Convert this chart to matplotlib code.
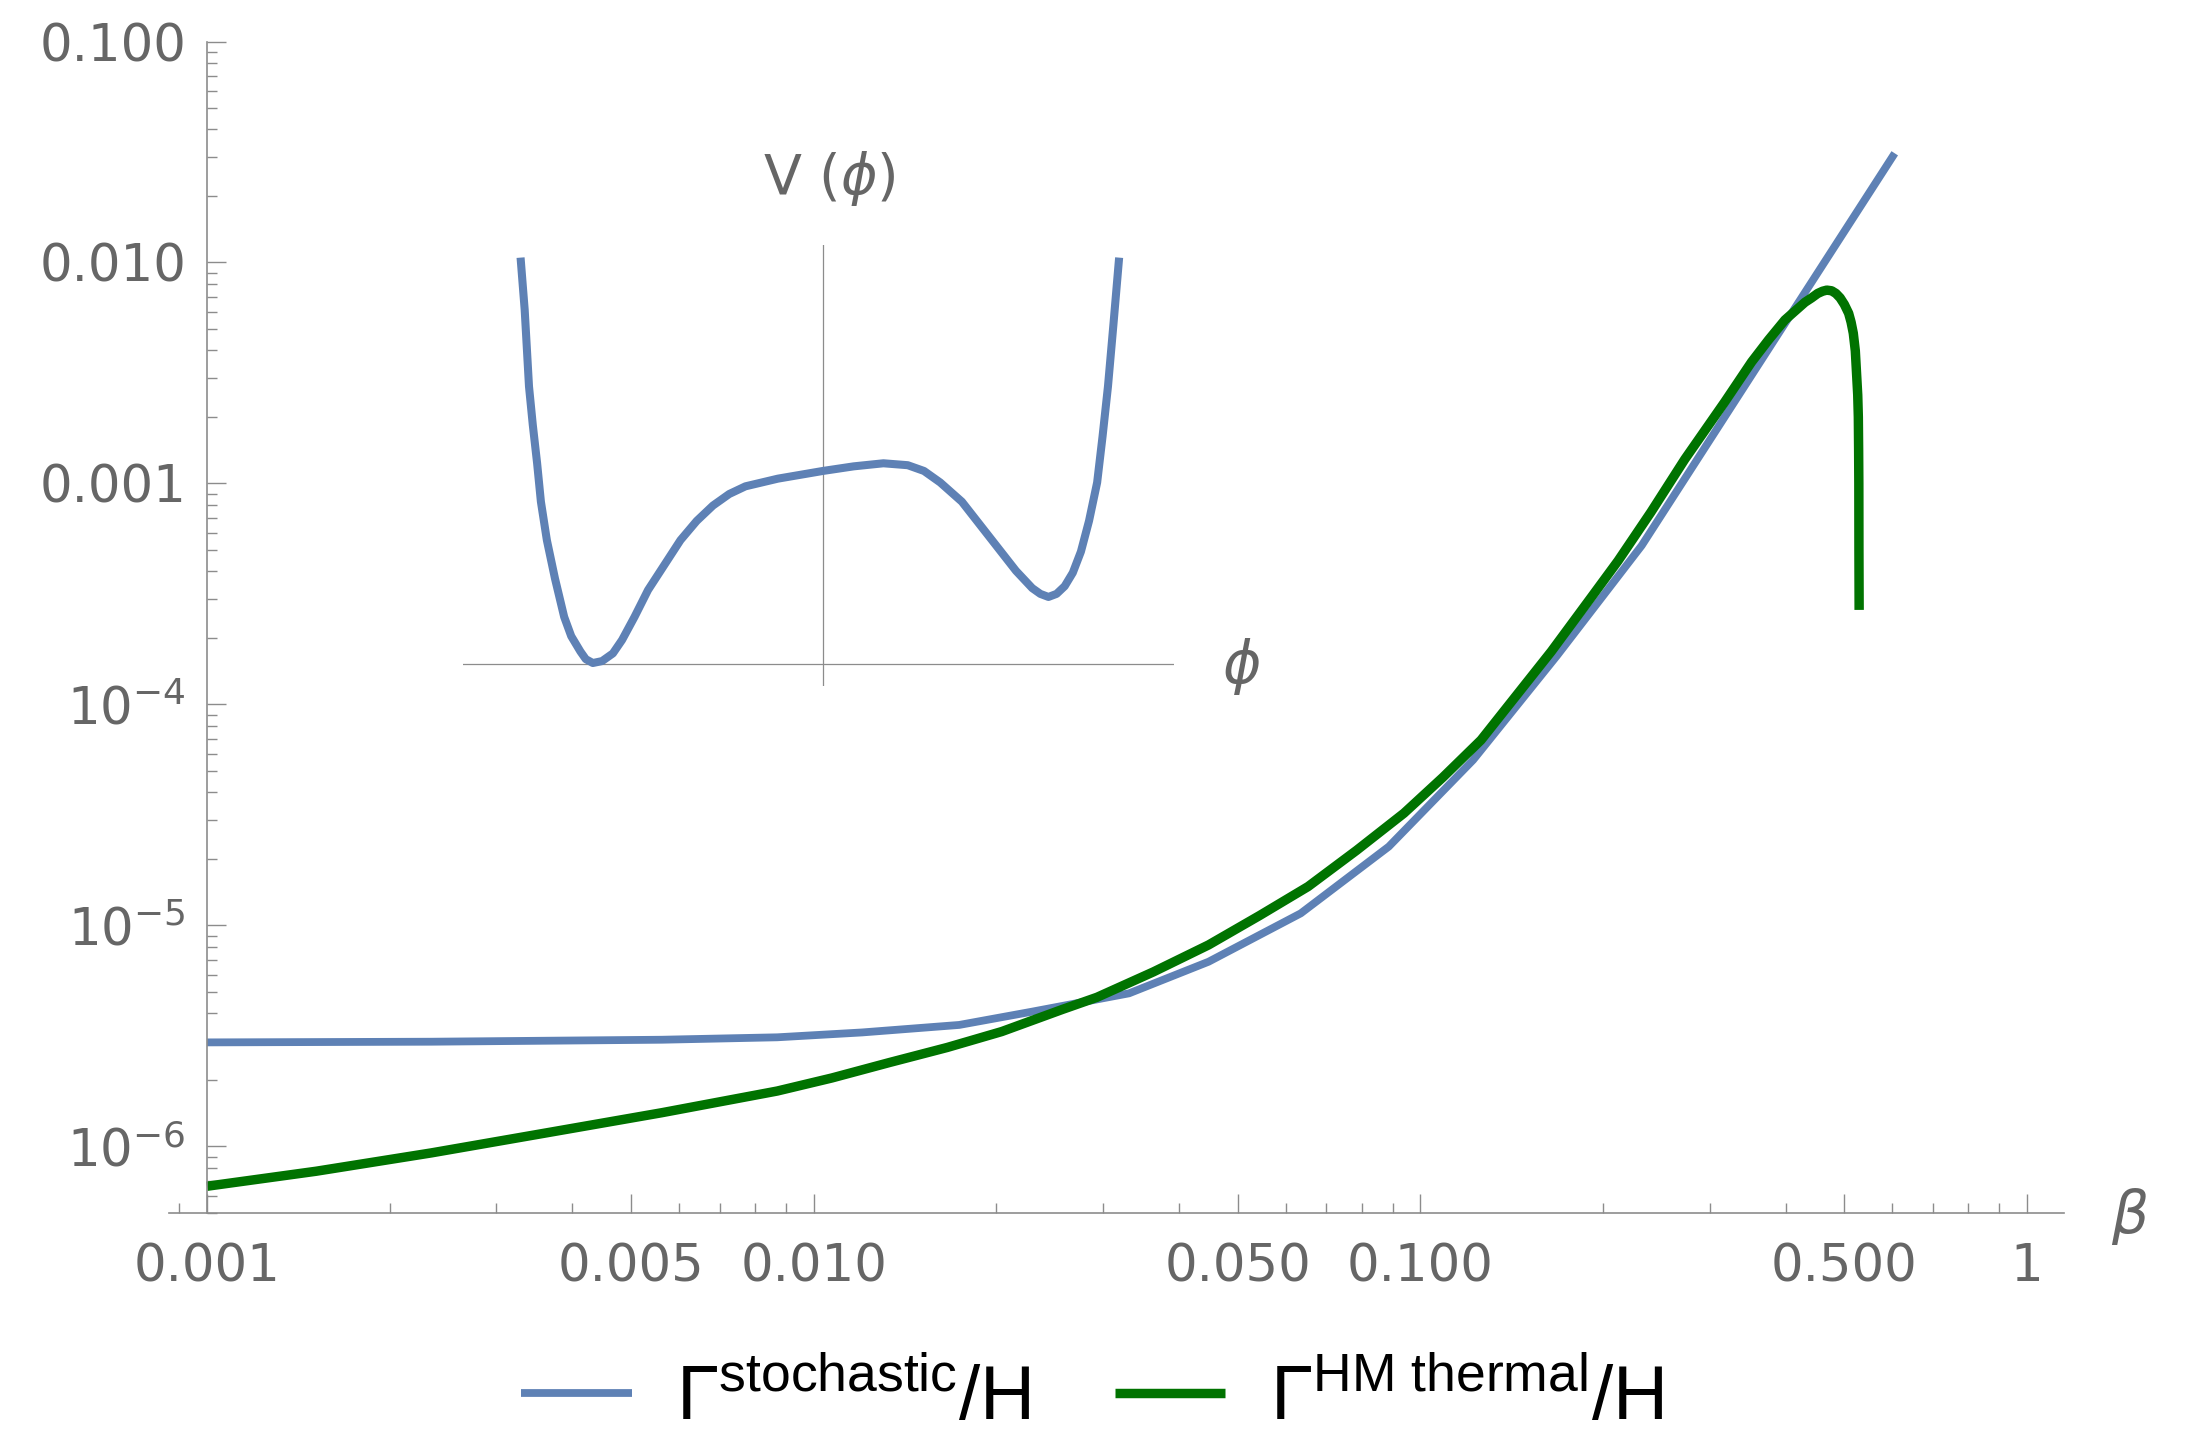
import matplotlib
matplotlib.use('Agg')
import matplotlib.pyplot as plt
from matplotlib.ticker import LogLocator, NullFormatter
from matplotlib.font_manager import FontProperties

# Gamma_stochastic / H
beta_stoch = [0.001, 0.002344, 0.005623, 0.00871, 0.01202, 0.01738, 0.02291,
              0.03311, 0.04477, 0.06353, 0.08872, 0.1222, 0.1679, 0.2317, 0.6053]
gamma_stoch = [2.958e-6, 2.979e-6, 3.041e-6, 3.119e-6, 3.281e-6, 3.548e-6, 4.074e-6,
               4.932e-6, 6.855e-6, 1.135e-5, 2.275e-5, 5.61e-5, 1.66e-4, 5.24e-4, 0.0312]

# Gamma_HM thermal / H
beta_hm = [0.001, 0.001514, 0.002344, 0.003631, 0.005623, 0.00871, 0.01072, 0.01334,
           0.0166, 0.02042, 0.0257, 0.02931, 0.03631, 0.04477, 0.05433, 0.06531,
           0.07852, 0.09397, 0.1089, 0.1259, 0.1644, 0.1919, 0.2118, 0.2399, 0.2729,
           0.3177, 0.3516, 0.375, 0.399, 0.4305, 0.4416, 0.4519, 0.4603, 0.4677, 0.4764,
           0.4842, 0.4920, 0.5000, 0.5082, 0.5129, 0.5172, 0.5212, 0.5236, 0.5260,
           0.5272, 0.5278, 0.5282, 0.5284, 0.5288]
gamma_hm = [6.607e-7, 7.727e-7, 9.354e-7, 1.153e-6, 1.422e-6, 1.782e-6, 2.042e-6, 2.399e-6,
            2.805e-6, 3.311e-6, 4.169e-6, 4.732e-6, 6.166e-6, 8.166e-6, 1.109e-5, 1.5e-5,
            2.188e-5, 3.221e-5, 4.677e-5, 6.902e-5, 1.738e-4, 3.09e-4, 4.467e-4, 7.413e-4, 1.288e-3,
            2.344e-3, 3.548e-3, 4.467e-3, 5.495e-3, 6.607e-3, 6.918e-3, 7.244e-3, 7.413e-3, 7.499e-3,
            7.447e-3, 7.244e-3, 6.918e-3, 6.457e-3, 5.888e-3, 5.370e-3, 4.786e-3, 3.981e-3,
            3.162e-3, 2.512e-3, 1.995e-3, 1.413e-3, 1.0e-3, 5.012e-4, 2.679e-4]

x_ticks = [0.001, 0.005, 0.01, 0.05, 0.1, 0.5, 1]
x_labels = ['0.001', '0.005', '0.010', '0.050', '0.100', '0.500', '1']
y_ticks = [1e-6, 1e-5, 1e-4, 1e-3, 1e-2, 1e-1]
y_labels = [r'$10^{-6}$', r'$10^{-5}$', r'$10^{-4}$', '0.001', '0.010', '0.100']

# inset potential V(phi), arbitrary units
phi = [-5.58, -5.51, -5.43, -5.36, -5.28, -5.21, -5.10, -4.95, -4.78, -4.65, -4.48, -4.38,
       -4.25, -4.08, -3.88, -3.71, -3.48, -3.23, -2.93, -2.63, -2.33, -2.03, -1.73, -1.43,
       -0.83, 0.0, 0.57, 1.12, 1.57, 1.87, 2.17, 2.57, 3.07, 3.57, 3.87, 4.02, 4.17, 4.32,
       4.47, 4.62, 4.77, 4.92, 5.07, 5.17, 5.27, 5.37, 5.47]
V = [10.47, 9.22, 7.22, 6.22, 5.22, 4.22, 3.22, 2.22, 1.22, 0.72, 0.32, 0.12,
     0.02, 0.07, 0.27, 0.62, 1.22, 1.92, 2.57, 3.22, 3.72, 4.12, 4.42, 4.62,
     4.82, 5.02, 5.14, 5.22, 5.17, 5.02, 4.72, 4.22, 3.32, 2.42, 1.97, 1.82, 1.74, 1.82,
     2.02, 2.37, 2.92, 3.72, 4.72, 5.92, 7.22, 8.82, 10.47]

blue = '#5E81B5'
green = '#007300'
axcol = '#8c8c8c'
labcol = '#666666'

plt.rcParams['font.family'] = 'DejaVu Sans'
plt.rcParams['mathtext.rm'] = 'Liberation Sans'
plt.rcParams['mathtext.it'] = 'Liberation Sans:italic'
plt.rcParams['mathtext.bf'] = 'Liberation Sans:bold'
plt.rcParams['mathtext.sf'] = 'Liberation Sans'

fig = plt.figure(figsize=(21.87, 14.41), dpi=100)
ax = fig.add_axes([0.07728, 0.15822, 0.86630, 0.81298])

l1, = ax.plot(beta_stoch, gamma_stoch, color=blue, lw=5.6, solid_capstyle='butt')
l2, = ax.plot(beta_hm, gamma_hm, color=green, lw=6.8, solid_capstyle='butt',
              solid_joinstyle='round')

ax.set_xscale('log')
ax.set_yscale('log')
ax.set_xlim(0.000866, 1.149)
ax.set_ylim(5.0e-7, 0.1)

for s in ['top', 'right']:
    ax.spines[s].set_visible(False)
ax.spines['left'].set_position(('data', 0.001))
for s in ['left', 'bottom']:
    ax.spines[s].set_color(axcol)
    ax.spines[s].set_linewidth(1.2)

ax.set_xticks(x_ticks)
ax.set_xticklabels(x_labels)
ax.set_yticks(y_ticks)
ax.set_yticklabels(y_labels)
ax.xaxis.set_minor_locator(LogLocator(base=10, subs=range(2, 10), numticks=50))
ax.yaxis.set_minor_locator(LogLocator(base=10, subs=range(2, 10), numticks=50))
ax.xaxis.set_minor_formatter(NullFormatter())
ax.yaxis.set_minor_formatter(NullFormatter())
ax.tick_params(which='major', direction='in', length=13.7, width=1.0, color=axcol,
               labelcolor=labcol, labelsize=37)
ax.tick_params(which='minor', direction='in', length=7.2, width=1.0, color=axcol)
ax.tick_params(axis='x', which='major', pad=21)
ax.tick_params(axis='y', which='major', pad=15)

fig.text(0.974, 0.156, r'$\beta$', fontsize=42, color=labcol, ha='center', va='center',
         math_fontfamily='dejavusans')

# inset with the potential
axi = fig.add_axes([0.2117, 0.5239, 0.3251, 0.306])
axi.axis('off')
axi.set_xlim(-6.65, 6.49)
axi.set_ylim(-0.58, 10.9)
axi.axhline(0, color=axcol, lw=0.9)
axi.axvline(0, color=axcol, lw=0.9)
axi.plot(phi, V, color=blue, lw=5.8, solid_joinstyle='round')
axi.text(0.13, 12.63, r'V ($\phi$)', fontsize=40, color=labcol, ha='center', va='center',
         clip_on=False, math_fontfamily='dejavusans')
axi.text(7.73, -0.08, r'$\phi$', fontsize=42, color=labcol, ha='center', va='center',
         clip_on=False, math_fontfamily='dejavusans')

leg_font = FontProperties(family='Liberation Sans', size=55, math_fontfamily='custom')
fig.legend([l1, l2],
           [r'$\Gamma^{\mathrm{stochastic}}/\mathrm{H}$',
            r'$\Gamma^{\mathrm{HM\ thermal}}/\mathrm{H}$'],
           loc='center', bbox_to_anchor=(0.4993, 0.029), ncol=2, frameon=False,
           prop=leg_font, handlelength=1.45, handletextpad=0.58, columnspacing=1.1)

fig.savefig('out.png', dpi=100)
